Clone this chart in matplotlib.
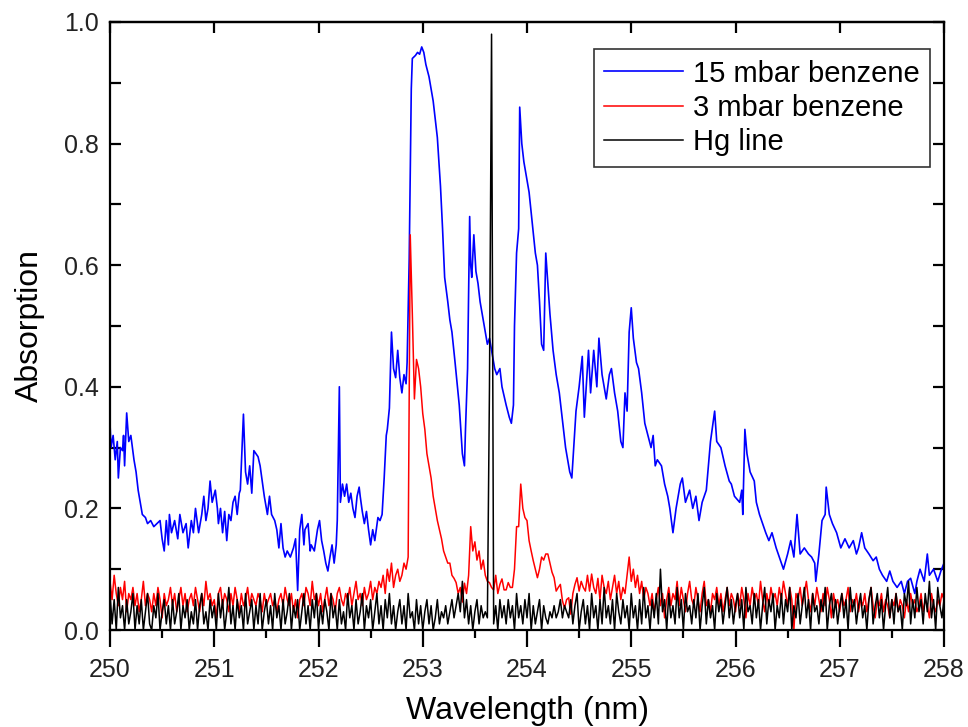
import numpy as np
import matplotlib
matplotlib.use("Agg")
import matplotlib.pyplot as plt
from matplotlib.ticker import MultipleLocator

plt.rcParams['font.family'] = ['Liberation Sans', 'DejaVu Sans']

# 15 mbar benzene (blue)
blue_wl = [250.00, 250.01, 250.03, 250.05, 250.07, 250.08, 250.10, 250.12, 250.13, 250.14,
           250.16, 250.18, 250.20, 250.23, 250.25, 250.27, 250.29, 250.31, 250.34, 250.36,
           250.39, 250.42, 250.45, 250.48, 250.50, 250.52, 250.54, 250.56, 250.57, 250.59,
           250.62, 250.65, 250.67, 250.70, 250.73, 250.75, 250.78, 250.80, 250.82, 250.85,
           250.88, 250.90, 250.92, 250.94, 250.96, 250.98, 251.01, 251.03, 251.04, 251.06,
           251.08, 251.10, 251.12, 251.14, 251.16, 251.18, 251.20, 251.22, 251.24, 251.25,
           251.28, 251.30, 251.32, 251.34, 251.36, 251.38, 251.40, 251.42, 251.44, 251.46,
           251.48, 251.49, 251.51, 251.53, 251.55, 251.58, 251.60, 251.62, 251.64, 251.66,
           251.68, 251.70, 251.73, 251.76, 251.78, 251.80, 251.82, 251.84, 251.86, 251.87,
           251.90, 251.92, 251.93, 251.96, 251.99, 252.01, 252.03, 252.05, 252.07, 252.09,
           252.11, 252.13, 252.15, 252.17, 252.18, 252.20, 252.21, 252.23, 252.25, 252.27,
           252.29, 252.31, 252.33, 252.35, 252.37, 252.39, 252.40, 252.42, 252.44, 252.46,
           252.48, 252.50, 252.52, 252.54, 252.57, 252.59, 252.61, 252.63, 252.65, 252.66,
           252.68, 252.70, 252.72, 252.74, 252.76, 252.78, 252.80, 252.82, 252.84, 252.85,
           252.87, 252.89, 252.90, 252.93, 252.95, 252.97, 252.99, 253.01, 253.03, 253.06,
           253.08, 253.10, 253.12, 253.14, 253.17, 253.19, 253.21, 253.24, 253.26, 253.28,
           253.31, 253.35, 253.38, 253.40, 253.41, 253.43, 253.45, 253.46, 253.47, 253.49,
           253.51, 253.53, 253.55, 253.57, 253.59, 253.62, 253.64, 253.66, 253.69, 253.71,
           253.74, 253.76, 253.80, 253.83, 253.85, 253.87, 253.88, 253.90, 253.92, 253.93,
           253.95, 253.97, 254.02, 254.05, 254.08, 254.10, 254.12, 254.14, 254.16, 254.18,
           254.20, 254.22, 254.25, 254.28, 254.31, 254.33, 254.35, 254.37, 254.39, 254.41,
           254.43, 254.47, 254.50, 254.53, 254.55, 254.59, 254.61, 254.64, 254.67, 254.69,
           254.72, 254.76, 254.79, 254.81, 254.84, 254.87, 254.90, 254.92, 254.94, 254.96,
           254.98, 255.00, 255.02, 255.05, 255.07, 255.10, 255.13, 255.16, 255.19, 255.21,
           255.23, 255.25, 255.29, 255.32, 255.35, 255.37, 255.40, 255.43, 255.47, 255.49,
           255.52, 255.56, 255.59, 255.62, 255.65, 255.68, 255.72, 255.76, 255.80, 255.82,
           255.86, 255.90, 255.94, 255.96, 255.99, 256.04, 256.06, 256.07, 256.09, 256.11,
           256.14, 256.18, 256.20, 256.23, 256.26, 256.29, 256.32, 256.35, 256.39, 256.42,
           256.46, 256.50, 256.53, 256.56, 256.59, 256.62, 256.66, 256.70, 256.73, 256.76,
           256.77, 256.80, 256.83, 256.86, 256.87, 256.90, 256.93, 256.97, 257.01, 257.05,
           257.09, 257.13, 257.16, 257.18, 257.21, 257.24, 257.28, 257.32, 257.35, 257.38,
           257.41, 257.45, 257.48, 257.51, 257.55, 257.59, 257.62, 257.65, 257.68, 257.72,
           257.74, 257.77, 257.81, 257.84, 257.86, 257.90, 257.94, 257.97, 258.00]
blue_abs = [0.34, 0.30, 0.32, 0.28, 0.31, 0.25, 0.30, 0.295, 0.32, 0.27,
            0.357, 0.31, 0.32, 0.28, 0.26, 0.23, 0.21, 0.19, 0.185, 0.175,
            0.18, 0.17, 0.175, 0.18, 0.15, 0.13, 0.18, 0.14, 0.19, 0.16,
            0.18, 0.15, 0.19, 0.16, 0.175, 0.135, 0.18, 0.16, 0.20, 0.16,
            0.19, 0.22, 0.18, 0.20, 0.245, 0.21, 0.23, 0.20, 0.175, 0.20,
            0.16, 0.195, 0.147, 0.19, 0.18, 0.21, 0.22, 0.19, 0.225, 0.23,
            0.355, 0.26, 0.24, 0.27, 0.225, 0.295, 0.29, 0.285, 0.27, 0.245,
            0.22, 0.21, 0.19, 0.22, 0.19, 0.18, 0.165, 0.135, 0.175, 0.135,
            0.12, 0.13, 0.12, 0.135, 0.15, 0.065, 0.165, 0.19, 0.14, 0.165,
            0.175, 0.13, 0.14, 0.13, 0.165, 0.18, 0.147, 0.13, 0.11, 0.097,
            0.12, 0.14, 0.11, 0.14, 0.18, 0.40, 0.21, 0.24, 0.22, 0.24,
            0.21, 0.225, 0.20, 0.185, 0.22, 0.235, 0.22, 0.195, 0.175, 0.195,
            0.165, 0.14, 0.165, 0.147, 0.185, 0.18, 0.19, 0.25, 0.32, 0.33,
            0.365, 0.49, 0.43, 0.415, 0.46, 0.415, 0.39, 0.42, 0.405, 0.44,
            0.61, 0.89, 0.94, 0.945, 0.95, 0.947, 0.959, 0.95, 0.93, 0.91,
            0.89, 0.87, 0.84, 0.81, 0.73, 0.66, 0.58, 0.54, 0.51, 0.49,
            0.44, 0.37, 0.29, 0.27, 0.33, 0.43, 0.68, 0.60, 0.58, 0.65,
            0.59, 0.57, 0.54, 0.52, 0.50, 0.47, 0.48, 0.46, 0.43, 0.42,
            0.43, 0.40, 0.37, 0.35, 0.34, 0.37, 0.50, 0.62, 0.66, 0.86,
            0.80, 0.77, 0.72, 0.67, 0.62, 0.60, 0.54, 0.47, 0.46, 0.62,
            0.57, 0.52, 0.46, 0.42, 0.39, 0.36, 0.33, 0.30, 0.28, 0.26,
            0.25, 0.36, 0.40, 0.45, 0.35, 0.46, 0.39, 0.46, 0.40, 0.48,
            0.42, 0.38, 0.42, 0.43, 0.39, 0.36, 0.31, 0.30, 0.39, 0.36,
            0.49, 0.53, 0.48, 0.44, 0.43, 0.39, 0.34, 0.32, 0.30, 0.32,
            0.27, 0.28, 0.27, 0.24, 0.22, 0.20, 0.16, 0.20, 0.24, 0.25,
            0.21, 0.23, 0.20, 0.22, 0.18, 0.21, 0.23, 0.31, 0.36, 0.31,
            0.30, 0.27, 0.245, 0.24, 0.22, 0.21, 0.23, 0.19, 0.33, 0.29,
            0.26, 0.245, 0.21, 0.19, 0.175, 0.16, 0.147, 0.16, 0.135, 0.12,
            0.10, 0.125, 0.147, 0.12, 0.19, 0.125, 0.135, 0.125, 0.12, 0.11,
            0.08, 0.125, 0.18, 0.19, 0.235, 0.19, 0.175, 0.16, 0.135, 0.15,
            0.135, 0.147, 0.125, 0.135, 0.16, 0.135, 0.125, 0.114, 0.12, 0.10,
            0.09, 0.08, 0.097, 0.08, 0.07, 0.08, 0.06, 0.08, 0.085, 0.06,
            0.08, 0.10, 0.08, 0.125, 0.09, 0.10, 0.08, 0.097, 0.11]

# 3 mbar benzene (red), sampled every 0.02 nm from 250.00
red_abs = [0.08, 0.05, 0.09, 0.06, 0.04, 0.07, 0.05, 0.08, 0.03, 0.06,
           0.05, 0.07, 0.04, 0.06, 0.03, 0.05, 0.08, 0.04, 0.06, 0.05,
           0.03, 0.06, 0.04, 0.07, 0.05, 0.02, 0.06, 0.04, 0.05, 0.07,
           0.04, 0.06, 0.03, 0.05, 0.07, 0.04, 0.06, 0.03, 0.05, 0.06,
           0.04, 0.07, 0.05, 0.03, 0.06, 0.04, 0.08, 0.05, 0.06, 0.04,
           0.05, 0.02, 0.06, 0.07, 0.04, 0.06, 0.05, 0.03, 0.06, 0.04,
           0.07, 0.05, 0.03, 0.06, 0.04, 0.05, 0.07, 0.04, 0.06, 0.05,
           0.04, 0.06, 0.05, 0.03, 0.06, 0.04, 0.05, 0.06, 0.04, 0.05,
           0.03, 0.05, 0.06, 0.04, 0.07, 0.05, 0.04, 0.06, 0.03, 0.05,
           0.02, 0.05, 0.06, 0.04, 0.07, 0.06, 0.04, 0.08, 0.05, 0.06,
           0.04, 0.06, 0.03, 0.05, 0.07, 0.04, 0.06, 0.05, 0.03, 0.06,
           0.07, 0.05, 0.04, 0.06, 0.05, 0.07, 0.04, 0.06, 0.08, 0.05,
           0.06, 0.04, 0.07, 0.05, 0.06, 0.08, 0.05, 0.07, 0.06, 0.08,
           0.07, 0.09, 0.06, 0.10, 0.08, 0.11, 0.07, 0.09, 0.10, 0.08,
           0.09, 0.11, 0.10, 0.12, 0.65, 0.52, 0.38, 0.445, 0.43, 0.40,
           0.356, 0.33, 0.29, 0.27, 0.25, 0.22, 0.20, 0.18, 0.165, 0.15,
           0.13, 0.12, 0.11, 0.11, 0.09, 0.085, 0.078, 0.06, 0.07, 0.046,
           0.077, 0.06, 0.09, 0.17, 0.13, 0.145, 0.115, 0.13, 0.10, 0.115,
           0.09, 0.08, 0.078, 0.07, 0.066, 0.09, 0.06, 0.075, 0.084, 0.066,
           0.066, 0.078, 0.07, 0.07, 0.10, 0.17, 0.17, 0.24, 0.20, 0.185,
           0.18, 0.147, 0.13, 0.114, 0.10, 0.086, 0.10, 0.12, 0.115, 0.125,
           0.125, 0.11, 0.095, 0.086, 0.064, 0.07, 0.075, 0.048, 0.036, 0.05,
           0.053, 0.026, 0.06, 0.075, 0.086, 0.064, 0.08, 0.07, 0.064, 0.09,
           0.064, 0.092, 0.07, 0.06, 0.085, 0.05, 0.09, 0.07, 0.06, 0.08,
           0.05, 0.07, 0.09, 0.06, 0.08, 0.05, 0.07, 0.06, 0.09, 0.12,
           0.08, 0.10, 0.07, 0.09, 0.06, 0.08, 0.05, 0.07, 0.06, 0.04,
           0.06, 0.03, 0.05, 0.07, 0.04, 0.06, 0.02, 0.05, 0.07, 0.04,
           0.06, 0.05, 0.08, 0.04, 0.07, 0.05, 0.03, 0.06, 0.08, 0.05,
           0.04, 0.07, 0.05, 0.03, 0.06, 0.08, 0.04, 0.05, 0.03, 0.06,
           0.05, 0.07, 0.04, 0.06, 0.03, 0.05, 0.07, 0.04, 0.06, 0.05,
           0.03, 0.06, 0.04, 0.07, 0.05, 0.02, 0.06, 0.04, 0.07, 0.05,
           0.06, 0.04, 0.08, 0.05, 0.03, 0.06, 0.04, 0.07, 0.05, 0.06,
           0.04, 0.07, 0.05, 0.08, 0.06, 0.04, 0.07, 0.05, 0.00, 0.06,
           0.05, 0.07, 0.04, 0.06, 0.08, 0.05, 0.03, 0.06, 0.04, 0.07,
           0.05, 0.03, 0.06, 0.04, 0.07, 0.05, 0.02, 0.06, 0.04, 0.05,
           0.03, 0.06, 0.04, 0.05, 0.07, 0.03, 0.05, 0.04, 0.06, 0.03,
           0.05, 0.04, 0.06, 0.03, 0.05, 0.07, 0.04, 0.02, 0.05, 0.04,
           0.06, 0.03, 0.05, 0.04, 0.02, 0.05, 0.04, 0.06, 0.03, 0.05,
           0.04, 0.02, 0.05, 0.03, 0.06, 0.04, 0.05, 0.03, 0.04, 0.06,
           0.03, 0.05, 0.04, 0.02, 0.06, 0.04, 0.03, 0.05, 0.04, 0.06,
           0.05]

# Hg line (black), sampled every 0.02 nm from 250.00
hg_abs = [0.06, 0.01, 0.05, 0.00, 0.07, 0.02, 0.04, 0.00, 0.05, 0.01,
          0.03, 0.06, 0.00, 0.04, 0.01, 0.05, 0.00, 0.03, 0.06, 0.01,
          0.00, 0.04, 0.02, 0.06, 0.00, 0.03, 0.05, 0.01, 0.04, 0.00,
          0.05, 0.01, 0.03, 0.06, 0.00, 0.04, 0.02, 0.05, 0.00, 0.03,
          0.01, 0.05, 0.00, 0.04, 0.06, 0.01, 0.03, 0.00, 0.05, 0.02,
          0.04, 0.00, 0.06, 0.02, 0.05, 0.00, 0.03, 0.07, 0.01, 0.04,
          0.00, 0.05, 0.02, 0.04, 0.00, 0.06, 0.01, 0.03, 0.05, 0.00,
          0.04, 0.01, 0.06, 0.00, 0.03, 0.05, 0.01, 0.04, 0.00, 0.06,
          0.02, 0.04, 0.00, 0.05, 0.01, 0.03, 0.06, 0.00, 0.04, 0.02,
          0.05, 0.00, 0.03, 0.06, 0.01, 0.04, 0.00, 0.05, 0.02, 0.06,
          0.00, 0.04, 0.01, 0.05, 0.03, 0.00, 0.06, 0.02, 0.04, 0.00,
          0.05, 0.01, 0.03, 0.00, 0.06, 0.02, 0.04, 0.00, 0.05, 0.01,
          0.03, 0.06, 0.00, 0.04, 0.02, 0.05, 0.00, 0.03, 0.06, 0.01,
          0.04, 0.00, 0.05, 0.02, 0.06, 0.01, 0.04, 0.00, 0.03, 0.05,
          0.01, 0.04, 0.00, 0.06, 0.02, 0.03, 0.00, 0.05, 0.01, 0.04,
          0.00, 0.03, 0.05, 0.01, 0.04, 0.00, 0.02, 0.05, 0.01, 0.03,
          0.02, 0.04, 0.01, 0.03, 0.05, 0.02, 0.04, 0.06, 0.03, 0.08,
          0.02, 0.05, 0.01, 0.04, 0.00, 0.03, 0.05, 0.01, 0.04, 0.02,
          0.03, 0.02, 0.40, 0.98, 0.01, 0.04, 0.00, 0.05, 0.02, 0.04,
          0.01, 0.05, 0.02, 0.04, 0.00, 0.06, 0.02, 0.04, 0.01, 0.05,
          0.02, 0.06, 0.00, 0.04, 0.01, 0.03, 0.05, 0.00, 0.04, 0.02,
          0.01, 0.03, 0.02, 0.04, 0.02, 0.03, 0.05, 0.02, 0.04, 0.03,
          0.02, 0.05, 0.01, 0.04, 0.06, 0.00, 0.03, 0.05, 0.01, 0.04,
          0.00, 0.06, 0.02, 0.04, 0.00, 0.05, 0.01, 0.07, 0.02, 0.04,
          0.01, 0.05, 0.00, 0.06, 0.03, 0.01, 0.05, 0.02, 0.04, 0.00,
          0.06, 0.02, 0.04, 0.00, 0.05, 0.01, 0.07, 0.02, 0.04, 0.00,
          0.05, 0.02, 0.06, 0.01, 0.10, 0.03, 0.05, 0.00, 0.06, 0.02,
          0.04, 0.01, 0.07, 0.02, 0.05, 0.00, 0.06, 0.03, 0.04, 0.01,
          0.05, 0.02, 0.06, 0.00, 0.04, 0.07, 0.01, 0.05, 0.02, 0.04,
          0.00, 0.06, 0.03, 0.05, 0.01, 0.04, 0.07, 0.02, 0.05, 0.01,
          0.04, 0.06, 0.02, 0.05, 0.00, 0.07, 0.03, 0.04, 0.01, 0.06,
          0.02, 0.05, 0.00, 0.04, 0.07, 0.01, 0.05, 0.03, 0.06, 0.00,
          0.04, 0.02, 0.06, 0.01, 0.05, 0.03, 0.07, 0.00, 0.04, 0.02,
          0.06, 0.01, 0.04, 0.07, 0.02, 0.05, 0.00, 0.06, 0.03, 0.04,
          0.01, 0.05, 0.03, 0.07, 0.00, 0.04, 0.06, 0.02, 0.05, 0.01,
          0.04, 0.06, 0.02, 0.05, 0.00, 0.07, 0.03, 0.05, 0.01, 0.04,
          0.06, 0.02, 0.04, 0.00, 0.05, 0.07, 0.01, 0.04, 0.06, 0.02,
          0.05, 0.00, 0.04, 0.07, 0.02, 0.05, 0.01, 0.06, 0.03, 0.04,
          0.00, 0.06, 0.04, 0.08, 0.01, 0.05, 0.02, 0.07, 0.03, 0.05,
          0.01, 0.06, 0.03, 0.08, 0.02, 0.05, 0.00, 0.07, 0.04, 0.02,
          0.05]

step = 0.02
red_wl = 250 + step * np.arange(len(red_abs))
hg_wl = 250 + step * np.arange(len(hg_abs))

fig = plt.figure(figsize=(9.68, 7.27), dpi=100)
ax = fig.add_axes([110 / 968, 1 - 630 / 727, (944 - 110) / 968, (630 - 22) / 727])

ax.plot(blue_wl, blue_abs, color='#0000ff', lw=1.2, label='15 mbar benzene')
ax.plot(red_wl, red_abs, color='#ff0000', lw=1.1, label='3 mbar benzene')
ax.plot(hg_wl, hg_abs, color='black', lw=1.1, label='Hg line')

ax.set_xlim(250, 258)
ax.set_ylim(0, 1.0)
ax.xaxis.set_major_locator(MultipleLocator(1))
ax.xaxis.set_minor_locator(MultipleLocator(0.5))
ax.yaxis.set_major_locator(MultipleLocator(0.2))
ax.yaxis.set_minor_locator(MultipleLocator(0.1))
ax.yaxis.set_major_formatter(plt.FormatStrFormatter('%.1f'))

for s in ax.spines.values():
    s.set_linewidth(1.6)

ax.tick_params(axis='x', which='major', direction='out', length=12, width=1.6,
               labelsize=18, pad=8, labelcolor='#222222')
ax.tick_params(axis='x', which='minor', direction='out', length=6, width=1.6)
ax.tick_params(axis='y', which='both', direction='in', length=8, width=1.6,
               right=True, labelsize=18, pad=8, labelcolor='#222222')

top = ax.secondary_xaxis('top')
top.xaxis.set_major_locator(MultipleLocator(1))
top.tick_params(direction='in', length=8, width=1.6, labeltop=False)
top.spines['top'].set_linewidth(1.6)

ax.set_xlabel('Wavelength (nm)', fontsize=23, labelpad=10)
ax.set_ylabel('Absorption', fontsize=23, labelpad=14)

leg = ax.legend(loc='upper right', bbox_to_anchor=(0.983, 0.955), fontsize=21,
                frameon=True, fancybox=False, borderpad=0.35, handlelength=2.7,
                handletextpad=0.35, labelspacing=0.22, borderaxespad=0)
leg.get_frame().set_edgecolor('black')
leg.get_frame().set_linewidth(1.2)

fig.savefig('out.png', dpi=100)
